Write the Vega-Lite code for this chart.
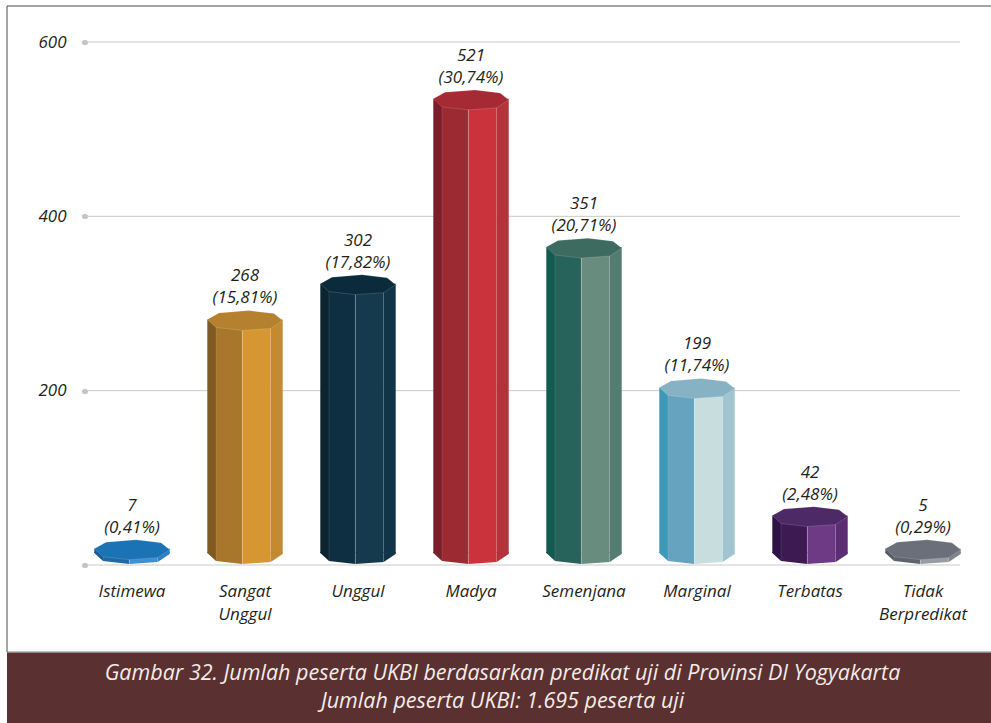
{
"$schema":"https://vega.github.io/schema/vega-lite/v6.json",
"autosize":{"type":"none"},
"padding":{"left":85,"top":42,"right":31,"bottom":158},
"width":875,"height":523,
"background":"white",
"config":{"view":{"stroke":null},"font":"Open Sans"},
"datasets":{"bars":[
{"Predikat":"Istimewa","Jumlah":7,"Tinggi":5,"Persen":"(0,41%)"},
{"Predikat":"Sangat Unggul","Jumlah":268,"Tinggi":268,"Persen":"(15,81%)"},
{"Predikat":"Unggul","Jumlah":302,"Tinggi":309,"Persen":"(17,82%)"},
{"Predikat":"Madya","Jumlah":521,"Tinggi":521,"Persen":"(30,74%)"},
{"Predikat":"Semenjana","Jumlah":351,"Tinggi":351,"Persen":"(20,71%)"},
{"Predikat":"Marginal","Jumlah":199,"Tinggi":190,"Persen":"(11,74%)"},
{"Predikat":"Terbatas","Jumlah":42,"Tinggi":43,"Persen":"(2,48%)"},
{"Predikat":"Tidak Berpredikat","Jumlah":5,"Tinggi":5,"Persen":"(0,29%)"}
]},
"resolve":{"scale":{"x":"independent"},"axis":{"y":"independent","x":"independent"}},
"layer":[
{
"data":{"values":[{"kiri":0.0793,"kanan":0.9685,"garis":0},{"kiri":0.0793,"kanan":0.9685,"garis":200},{"kiri":0.0793,"kanan":0.9685,"garis":400},{"kiri":0.0793,"kanan":0.9685,"garis":600}]},
"mark":{"type":"rule","color":"#c9c9c9","strokeWidth":1},
"encoding":{
"x":{"field":"kiri","type":"quantitative","scale":{"domain":[0,1],"range":[-78,906]},"axis":null},
"x2":{"field":"kanan"},
"y":{"field":"garis","type":"quantitative","axis":null}
}
},
{
"data":{"name":"bars"},
"encoding":{
"x":{"field":"Predikat","type":"nominal","sort":null,"scale":{"type":"band","range":[-9.5,894.5],"paddingInner":0,"paddingOuter":0},
"axis":{"title":null,"domain":false,"ticks":false,"labelAngle":0,"labelPadding":18,"labelFontSize":17,"labelFontStyle":"italic","labelFont":"Open Sans","labelColor":"#231f20","labelLineHeight":23,"labelOverlap":false,"labelBound":false,"labelFlush":false,"labelExpr":"split(datum.label,' ')","labelBaseline":"top"}},
"y":{"field":"Tinggi","type":"quantitative","scale":{"domain":[0,600],"nice":false},
"axis":{"title":null,"values":[0,200,400,600],"domain":false,"grid":false,"tickColor":"#c4c4c4","tickSize":1,"tickWidth":5,"tickCap":"round","labelPadding":18,"labelFontSize":17,"labelFontStyle":"italic","labelFont":"Open Sans","labelColor":"#231f20","labelExpr":"datum.value==0?'':datum.label"}}
},
"resolve":{"scale":{"color":"independent"}},
"layer":[
{"mark":{"type":"bar","width":8.7,"xOffset":-33.35,"yOffset":-12,"y2Offset":-12},"encoding":{"y2":{"datum":0},"color":{"field":"Predikat","sort":null,"legend":null,"scale":{"range":["#155a90","#7f5a22","#0b2430","#7a1f2a","#155a50","#3e98b8","#2e1245","#585c66"]}}}},
{"mark":{"type":"bar","width":26.3,"xOffset":-15.85,"yOffset":-12,"y2Offset":-12},"encoding":{"y2":{"datum":0},"color":{"field":"Predikat","sort":null,"legend":null,"scale":{"range":["#1e6aa8","#a9772c","#0e2e41","#9c2a32","#27635a","#66a3bf","#3d1a52","#5f636c"]}}}},
{"mark":{"type":"bar","width":28.4,"xOffset":11.5,"yOffset":-12,"y2Offset":-12},"encoding":{"y2":{"datum":0},"color":{"field":"Predikat","sort":null,"legend":null,"scale":{"range":["#3d8fd0","#d69733","#153a4e","#cb333c","#688c7e","#c8dddd","#6f3a85","#9a9ca4"]}}}},
{"mark":{"type":"bar","width":12,"xOffset":31.7,"yOffset":-12,"y2Offset":-12},"encoding":{"y2":{"datum":0},"color":{"field":"Predikat","sort":null,"legend":null,"scale":{"range":["#2f80c0","#c48a30","#123448","#b53238","#537d70","#a0c4d0","#5c2d72","#80838c"]}}}},
{"mark":{"type":"point","filled":true,"opacity":1,"size":4,"strokeWidth":0,"shape":"M-37.7,-13L-29,-13L-29,-4L-37.7,-12Z"},"encoding":{"y":{"datum":0},"color":{"field":"Predikat","sort":null,"legend":null,"scale":{"range":["#155a90","#7f5a22","#0b2430","#7a1f2a","#155a50","#3e98b8","#2e1245","#585c66"]}}}},
{"mark":{"type":"point","filled":true,"opacity":1,"size":4,"strokeWidth":0,"shape":"M-29,-13L-2.7,-13L-2.7,-1L-29,-4Z"},"encoding":{"y":{"datum":0},"color":{"field":"Predikat","sort":null,"legend":null,"scale":{"range":["#1e6aa8","#a9772c","#0e2e41","#9c2a32","#27635a","#66a3bf","#3d1a52","#5f636c"]}}}},
{"mark":{"type":"point","filled":true,"opacity":1,"size":4,"strokeWidth":0,"shape":"M-2.7,-13L25.7,-13L25.7,-3L-2.7,-1Z"},"encoding":{"y":{"datum":0},"color":{"field":"Predikat","sort":null,"legend":null,"scale":{"range":["#3d8fd0","#d69733","#153a4e","#cb333c","#688c7e","#c8dddd","#6f3a85","#9a9ca4"]}}}},
{"mark":{"type":"point","filled":true,"opacity":1,"size":4,"strokeWidth":0,"shape":"M25.7,-13L37.7,-13L37.7,-11L25.7,-3Z"},"encoding":{"y":{"datum":0},"color":{"field":"Predikat","sort":null,"legend":null,"scale":{"range":["#2f80c0","#c48a30","#123448","#b53238","#537d70","#a0c4d0","#5c2d72","#80838c"]}}}},
{"mark":{"type":"bar","width":0.8,"xOffset":-2.7,"yOffset":-6,"y2Offset":-1,"color":"#ffffff","opacity":0.3},"encoding":{"y2":{"datum":0}}},
{"mark":{"type":"bar","width":0.7,"xOffset":-29,"yOffset":-6,"y2Offset":-4,"color":"#ffffff","opacity":0.15},"encoding":{"y2":{"datum":0}}},
{"mark":{"type":"bar","width":0.7,"xOffset":25.7,"yOffset":-6,"y2Offset":-3,"color":"#ffffff","opacity":0.15},"encoding":{"y2":{"datum":0}}},
{"mark":{"type":"point","filled":true,"opacity":1,"size":4,"stroke":"#ffffff","strokeOpacity":0.25,"strokeWidth":0.6,"shape":"M-37.7,-12L-26,-18.5L4,-20.8L29,-17.8L37.7,-11L25.7,-3L-2.7,-1L-29,-4Z"},"encoding":{"color":{"field":"Predikat","sort":null,"legend":null,"scale":{"range":["#1b72b5","#b5812f","#0b2b3d","#a52a33","#3d6b60","#86b2c4","#4d2a66","#6b6f7a"]}}}},
{"mark":{"type":"text","dy":-55,"fontSize":17,"fontStyle":"italic","font":"Open Sans","color":"#231f20"},"encoding":{"text":{"field":"Jumlah","type":"quantitative"}}},
{"mark":{"type":"text","dy":-33,"fontSize":17,"fontStyle":"italic","font":"Open Sans","color":"#231f20"},"encoding":{"text":{"field":"Persen","type":"nominal"}}}
]
},
{
"data":{"values":[{"kiri":0,"kanan":1,"bawah":-181.5,"atas":-101}]},
"mark":{"type":"rect","color":"#5a3030"},
"encoding":{
"x":{"field":"kiri","type":"quantitative","scale":{"domain":[0,1],"range":[-78,906]},"axis":null},
"x2":{"field":"kanan"},
"y":{"field":"atas","type":"quantitative","axis":null},
"y2":{"field":"bawah"}
}
},
{
"data":{"values":[{"kiri":0,"kanan":1.02,"bawah":-100,"atas":641.3}]},
"mark":{"type":"rect","fill":null,"stroke":"#4a4a4a","strokeWidth":1},
"encoding":{
"x":{"field":"kiri","type":"quantitative","scale":{"domain":[0,1],"range":[-78,906]},"axis":null},
"x2":{"field":"kanan"},
"y":{"field":"atas","type":"quantitative","axis":null},
"y2":{"field":"bawah"}
}
},
{
"data":{"values":[{"posisi":0.5036,"baris":-125,"teks":"Gambar 32. Jumlah peserta UKBI berdasarkan predikat uji di Provinsi DI Yogyakarta"},{"posisi":0.5036,"baris":-157,"teks":"Jumlah peserta UKBI: 1.695 peserta uji"}]},
"mark":{"type":"text","fontSize":21.5,"fontStyle":"italic","font":"Open Sans","color":"#f3ece8"},
"encoding":{
"x":{"field":"posisi","type":"quantitative","scale":{"domain":[0,1],"range":[-78,906]},"axis":null},
"y":{"field":"baris","type":"quantitative","axis":null},
"text":{"field":"teks","type":"nominal"}
}
}
]
}
